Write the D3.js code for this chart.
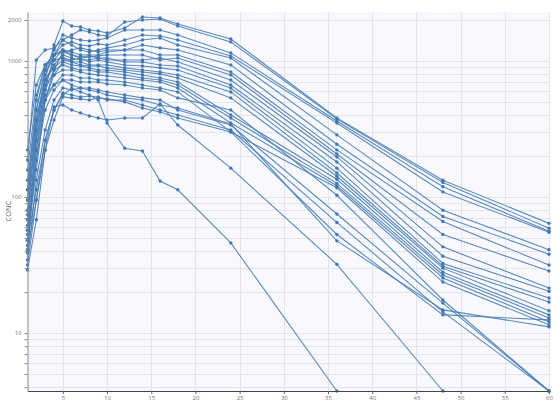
<!DOCTYPE html>
<html>
<head>
<meta charset="utf-8">
<script src="https://cdn.jsdelivr.net/npm/d3@7"></script>
<style>
  html, body { margin: 0; padding: 0; background: #fff; }
  svg { display: block; font-family: "Open Sans", sans-serif; }
</style>
</head>
<body>
<svg id="chart" width="560" height="403"></svg>
<script>
// sampling times (h)
const times = [1, 2, 3, 4, 5, 6, 7, 8, 9, 10, 12, 14, 16, 18, 24, 36, 48, 60];

// concentration per subject, one entry per sampling time (shorter rows stop early)
const concBySubject = [
    [95, 311, 725, 1311, 1966, 1809, 1779, 1690, 1662, 1606, 1749, 2103, 2068, 1870, 1451, 381, 133, 64],
    [41, 222, 612, 1107, 1427, 1553, 1690, 1634, 1553, 1527, 1933, 2000, 2033, 1809, 1380, 375, 128, 59],
    [133, 436, 859, 1205, 1553, 1476, 1427, 1403, 1427, 1476, 1690, 1690, 1690, 1553, 1146, 362, 119, 56],
    [68, 368, 789, 1107, 1311, 1380, 1311, 1289, 1334, 1311, 1427, 1553, 1527, 1427, 1089, 350, 109, 55],
    [187, 1017, 1205, 1247, 1427, 1311, 1205, 1165, 1205, 1247, 1311, 1427, 1476, 1311, 1052, 286, 80, 41],
    [48, 158, 517, 859, 1165, 1205, 1247, 1205, 1165, 1205, 1205, 1311, 1247, 1205, 935, 244, 72, 38],
    [113, 517, 935, 1107, 1205, 1165, 1107, 1107, 1107, 1165, 1205, 1205, 1107, 1107, 830, 222, 66, 31.6],
    [57, 262, 666, 1017, 1205, 1107, 1052, 1070, 1089, 1107, 1107, 1107, 1017, 1052, 789, 207, 53, 28.6],
    [158, 562, 935, 1107, 1165, 1107, 1070, 1089, 1052, 1017, 1017, 1017, 1052, 983, 725, 197, 43, 21.4],
    [38.7, 311, 725, 935, 1107, 1052, 1017, 1017, 1052, 1052, 983, 983, 935, 919, 666, 181, 36.7, 20.3],
    [95, 436, 859, 1017, 1052, 1017, 1052, 983, 1017, 983, 935, 919, 889, 859, 633, 163, 32.5, 18.1],
    [74, 368, 725, 889, 1017, 983, 983, 935, 935, 935, 889, 859, 830, 789, 592, 150, 31, 16.9],
    [222, 666, 935, 1017, 1052, 983, 935, 919, 919, 889, 859, 830, 803, 750, 535, 142, 30, 14.6],
    [53, 187, 517, 789, 983, 935, 919, 889, 859, 859, 830, 789, 750, 701, 401, 135, 28, 13.6],
    [80, 311, 612, 859, 935, 889, 859, 859, 830, 830, 789, 750, 725, 666, 381, 126, 26.7, 12.9],
    [113, 368, 666, 789, 859, 859, 830, 803, 789, 776, 750, 725, 701, 633, 350, 121, 25.4, 12.1],
    [44, 222, 517, 666, 789, 789, 750, 750, 725, 725, 701, 666, 633, 592, 301, 117, 23.7, 11.5],
    [62, 262, 562, 666, 725, 725, 701, 701, 701, 677, 666, 633, 612, 535, 436, 103, 17.5, 3.75],
    [34.4, 133, 311, 517, 633, 612, 633, 633, 612, 592, 562, 535, 517, 436, 338, 75, 16.6, 3.75],
    [48, 113, 262, 436, 582, 562, 544, 553, 544, 517, 517, 475, 436, 401, 311, 65, 14.3, 3.75],
    [41, 95, 222, 368, 544, 535, 526, 517, 535, 526, 500, 451, 422, 381, 301, 53, 13.6, 12.5],
    [57, 187, 436, 612, 725, 666, 633, 612, 592, 562, 535, 517, 475, 451, 344, 47.6, 14.8, 11.1],
    [29.1, 68, 222, 459, 475, 436, 415, 394, 381, 368, 381, 381, 483, 338, 163, 32, 3.75],
    [31.6, 95, 262, 436, 562, 633, 592, 562, 517, 350, 228, 218, 131, 113, 46, 3.75]
];

const xTicks = [5, 10, 15, 20, 25, 30, 35, 40, 45, 50, 55, 60];
const yLabels = [10, 100, 1000, 2000];

const svg = d3.select("#chart");
const plotLeft = 27.5, plotRight = 549, plotTop = 12, plotBottom = 391;

const x = d3.scaleLinear().domain([1, 60]).range([plotLeft, plotRight]);
const y = d3.scaleLog().domain([3.75, 2290]).range([plotBottom, plotTop]);

// plot background
svg.append("rect")
    .attr("x", plotLeft).attr("y", plotTop)
    .attr("width", plotRight - plotLeft).attr("height", plotBottom - plotTop)
    .attr("fill", "#f8f8fd");

// minor log grid (1..9 per decade)
const yGrid = [];
[1, 10, 100, 1000].forEach(d => {
    for (let k = 1; k <= 9; k++) {
        const v = k * d;
        if (v >= y.domain()[0] && v <= y.domain()[1]) yGrid.push(v);
    }
});

svg.append("g")
    .selectAll("line")
    .data(yGrid)
    .join("line")
    .attr("x1", plotLeft).attr("x2", plotRight)
    .attr("y1", d => Math.round(y(d)) + 0.5)
    .attr("y2", d => Math.round(y(d)) + 0.5)
    .attr("stroke", "#e3e5ee")
    .attr("stroke-width", 1);

svg.append("g")
    .selectAll("line")
    .data(xTicks)
    .join("line")
    .attr("x1", d => Math.round(x(d)) + 0.5)
    .attr("x2", d => Math.round(x(d)) + 0.5)
    .attr("y1", plotTop).attr("y2", plotBottom)
    .attr("stroke", "#e3e5ee")
    .attr("stroke-width", 1);

// profiles
const line = d3.line()
    .x(d => x(d.t))
    .y(d => y(d.c));

const series = concBySubject.map(row => row.map((c, i) => ({t: times[i], c: c})));

const plot = svg.append("g");

plot.selectAll("path")
    .data(series)
    .join("path")
    .attr("d", line)
    .attr("fill", "none")
    .attr("stroke", "#4a80b6")
    .attr("stroke-width", 1.1)
    .attr("stroke-opacity", 0.9);

plot.selectAll("g.pts")
    .data(series)
    .join("g")
    .attr("class", "pts")
    .selectAll("circle")
    .data(d => d)
    .join("circle")
    .attr("cx", d => x(d.t))
    .attr("cy", d => y(d.c))
    .attr("r", 1.7)
    .attr("fill", "#4279b1");

// axes
const xAxis = d3.axisBottom(x)
    .tickValues(xTicks)
    .tickSize(3)
    .tickPadding(1.5)
    .tickSizeOuter(0)
    .tickFormat(d3.format("d"));

const gx = svg.append("g")
    .attr("transform", "translate(0," + plotBottom + ")")
    .call(xAxis);

gx.select(".domain").attr("stroke", "#444").attr("stroke-width", 1.2);
gx.selectAll(".tick line").attr("stroke", "#666");
gx.selectAll(".tick text").attr("font-size", 6).attr("fill", "#777")
    .attr("font-family", "'Open Sans', sans-serif");

const yAxis = d3.axisLeft(y)
    .tickValues(yGrid)
    .tickSize(3)
    .tickPadding(3)
    .tickSizeOuter(0)
    .tickFormat(d => yLabels.includes(d) ? d : "");

const gy = svg.append("g")
    .attr("transform", "translate(" + plotLeft + ",0)")
    .call(yAxis);

gy.select(".domain").attr("stroke", "#888").attr("stroke-width", 1);
gy.selectAll(".tick line").attr("stroke", "#888");
gy.selectAll(".tick text").attr("font-size", 6).attr("fill", "#777")
    .attr("font-family", "'Open Sans', sans-serif");

// axis titles
svg.append("text")
    .attr("transform", "translate(11,211) rotate(-90)")
    .attr("text-anchor", "middle")
    .attr("font-size", 7.5)
    .attr("fill", "#666")
    .text("CONC");

svg.append("text")
    .attr("x", 293)
    .attr("y", 408.5)
    .attr("text-anchor", "middle")
    .attr("font-size", 7)
    .attr("fill", "#666")
    .text("TIME");
</script>
</body>
</html>
